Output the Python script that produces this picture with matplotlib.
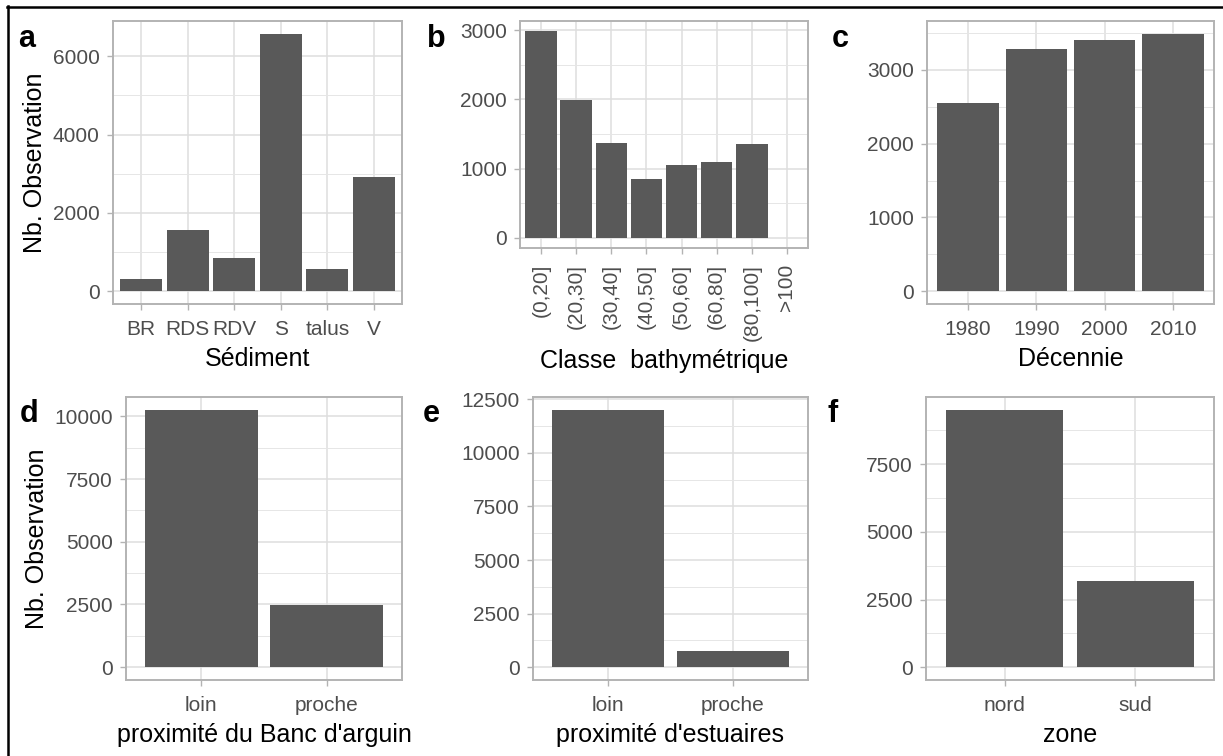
import matplotlib.pyplot as plt
from matplotlib.lines import Line2D

plt.rcParams['font.family'] = ['Liberation Sans', 'DejaVu Sans']

# data
sediment_cats = ['BR', 'RDS', 'RDV', 'S', 'talus', 'V']
sediment_n = [315, 1550, 840, 6575, 570, 2915]

bathy_cats = ['(0,20]', '(20,30]', '(30,40]', '(40,50]', '(50,60]', '(60,80]', '(80,100]', '>100']
bathy_n = [2985, 1995, 1365, 845, 1045, 1095, 1350, 0]

decade_cats = ['1980', '1990', '2000', '2010']
decade_n = [2550, 3280, 3400, 3490]

banc_cats = ['loin', 'proche']
banc_n = [10260, 2470]

estuaire_cats = ['loin', 'proche']
estuaire_n = [12010, 750]

zone_cats = ['nord', 'sud']
zone_n = [9510, 3200]

W, H = 1223, 756
fig = plt.figure(figsize=(W / 100, H / 100), dpi=100)


def px_axes(x0, y0, x1, y1):
    return fig.add_axes([x0 / W, 1 - y1 / H, (x1 - x0) / W, (y1 - y0) / H])


def draw_panel(ax, cats, vals, step, xlabel, ylabel=None, rotate=False):
    x = list(range(len(cats)))
    vmax = max(vals)
    top = vmax * 1.05
    ax.bar(x, vals, width=0.9, color='#595959', linewidth=0, zorder=2)
    ax.set_xlim(-0.6, len(cats) - 0.4)
    ax.set_ylim(-0.05 * vmax, top)
    major = [i * step for i in range(0, 20) if i * step <= top]
    minor = [step / 2 + i * step for i in range(0, 20) if step / 2 + i * step <= top]
    ax.set_yticks(major)
    ax.set_yticks(minor, minor=True)
    ax.set_yticklabels([str(int(m)) for m in major])
    ax.set_xticks(x)
    ax.set_xticklabels(cats, rotation=90 if rotate else 0)
    ax.grid(which='major', color='#DEDEDE', lw=1.1, zorder=0)
    ax.grid(which='minor', axis='y', color='#E6E6E6', lw=0.7, zorder=0)
    ax.set_axisbelow(True)
    for s in ax.spines.values():
        s.set_color('#B3B3B3')
        s.set_linewidth(1.4)
        s.set_zorder(3)
    ax.tick_params(which='major', length=4.5, width=1.0, color='#B3B3B3',
                   labelsize=15, labelcolor='#4D4D4D')
    ax.tick_params(axis='x', which='major', pad=7)
    ax.tick_params(axis='y', which='major', pad=5)
    ax.tick_params(which='minor', length=0)
    ax.set_xlabel(xlabel, fontsize=18, labelpad=6, color='black')
    if ylabel:
        ax.set_ylabel(ylabel, fontsize=18, labelpad=4, color='black')


ax_a = px_axes(113, 21, 402, 304)
draw_panel(ax_a, sediment_cats, sediment_n, 2000, 'Sédiment', 'Nb. Observation')

ax_b = px_axes(520, 21, 808, 248)
draw_panel(ax_b, bathy_cats, bathy_n, 1000, 'Classe  bathymétrique', rotate=True)

ax_c = px_axes(927, 21, 1214, 304)
draw_panel(ax_c, decade_cats, decade_n, 1000, 'Décennie')

ax_d = px_axes(126, 397, 402, 680)
draw_panel(ax_d, banc_cats, banc_n, 2500, "proximité du Banc d'arguin", 'Nb. Observation')

ax_e = px_axes(533, 397, 808, 680)
draw_panel(ax_e, estuaire_cats, estuaire_n, 2500, "proximité d'estuaires")

ax_f = px_axes(926, 397, 1214, 680)
draw_panel(ax_f, zone_cats, zone_n, 2500, 'zone')

# panel letters
for lab, lx, ly in [('a', 18, 47), ('b', 427, 47), ('c', 832, 47),
                    ('d', 20, 422), ('e', 423, 422), ('f', 827, 422)]:
    fig.text(lx / W, 1 - ly / H, lab, fontsize=22, fontweight='bold',
             ha='left', va='baseline')

# black frame on top and left edges
fig.add_artist(Line2D([7.5 / W, 7.5 / W], [0, 1 - 5.5 / H], transform=fig.transFigure,
                      color='black', lw=1.8))
fig.add_artist(Line2D([6.5 / W, 1], [1 - 6.5 / H, 1 - 6.5 / H], transform=fig.transFigure,
                      color='black', lw=1.8))

fig.savefig('out.png', dpi=100)
